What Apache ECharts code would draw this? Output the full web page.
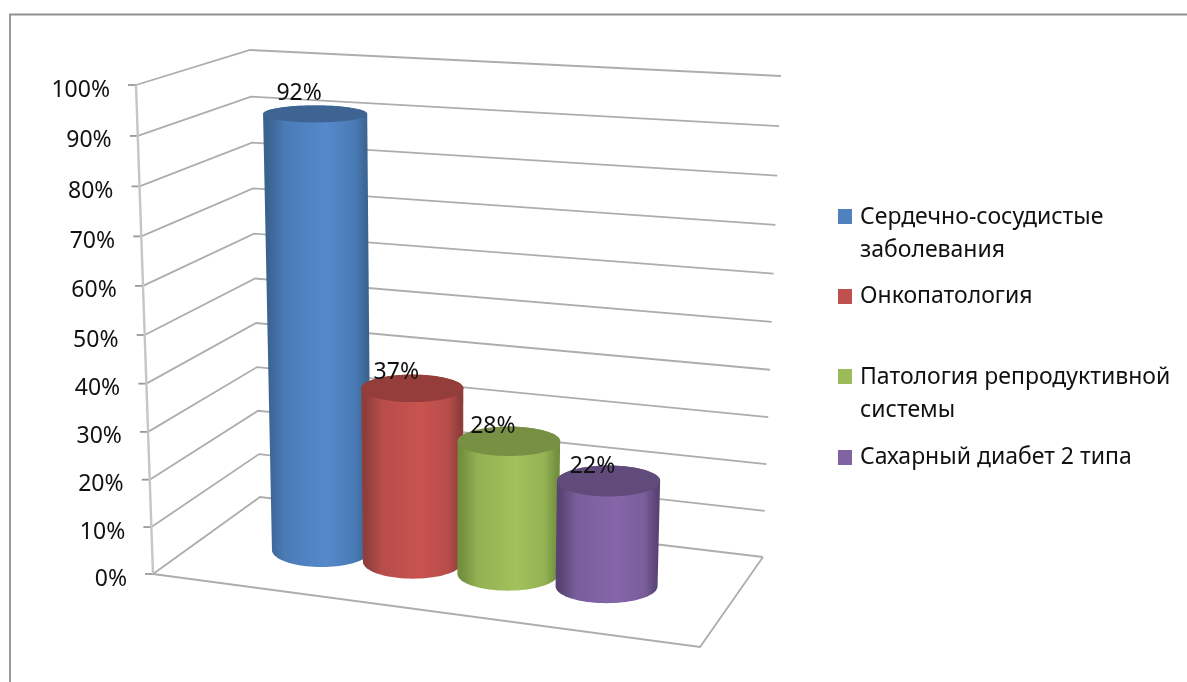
<!DOCTYPE html>
<html><head><meta charset="utf-8">
<style>html,body{margin:0;padding:0;background:#fff}#c{width:1187px;height:682px;filter:blur(0.4px)}</style>
<script src="https://cdn.jsdelivr.net/npm/echarts@6/dist/echarts.min.js"></script>
</head><body><div id="c"></div>
<script>
const seriesNames = ['Сердечно-сосудистые\nзаболевания','Онкопатология','Патология репродуктивной\nсистемы','Сахарный диабет 2 типа'];
const seriesValues = [92,37,28,22];
const tickValues = [0,10,20,30,40,50,60,70,80,90,100];
const seriesColors = ['#4F81BD','#C0504D','#9BBB59','#8064A2'];
const bodyEdge = ['#3A628F','#8E3D3B','#73903F','#584372'];
const bodyMid = ['#4A7BB6','#B74D4A','#93B254','#7A5E9B'];
const bodyLight = ['#5589CB','#C9534F','#A1C25C','#8566A9'];
const topFill = ['#3E6494','#953D3A','#789044','#604B7B'];

const FONT = '"Noto Sans", sans-serif';
// wall / floor frame of the 3D box (layout only)
const FL=[[153,574],[136,85]], BL=[[260,497],[250,50]], BR=[[763,557],[781,76]], FR=[[700,647],[715,121]];
const DEPTH=0.5, ROW_PERSP=0.1, LINE='#adadad', AXIS_LINE='#c6c6c6';
const X_MIN=-1.3127, X_MAX=4.2123;
const warp=t=>0.956*t/(1-0.044*t);
const lerp=(a,b,t)=>[a[0]+(b[0]-a[0])*t,a[1]+(b[1]-a[1])*t];
function project(u,d,t){
  const w=warp(t);
  const front=lerp(lerp(FL[0],FR[0],u),lerp(FL[1],FR[1],u),w);
  const back=lerp(lerp(BL[0],BR[0],u),lerp(BL[1],BR[1],u),w);
  return lerp(front,back,d);
}
const edge=(E,t)=>lerp(E[0],E[1],warp(t));
const tOf=(api,v)=>{const a=api.coord([0,0])[1],b=api.coord([0,100])[1];return (a-api.coord([0,v])[1])/(a-b);};
const uOf=(api,x)=>{const a=api.coord([X_MIN,0])[0],b=api.coord([X_MAX,0])[0];
  const s=(api.coord([x,0])[0]-a)/(b-a);return (1-ROW_PERSP)*s/(1-ROW_PERSP*s);};

function renderWall(params,api){
  const t=tOf(api,api.value(1));
  const f=edge(FL,t),b=edge(BL,t),r=edge(BR,t);
  return {type:'group',children:[
    {type:'polyline',shape:{points:[f,b,r]},style:{stroke:LINE,lineWidth:1.8,fill:null}},
    {type:'line',shape:{x1:f[0]-8,y1:f[1],x2:f[0],y2:f[1]},style:{stroke:'#999',lineWidth:1.8}}
  ]};
}
function renderFrame(params,api){
  return {type:'group',children:[
    {type:'line',shape:{x1:FL[1][0],y1:FL[1][1],x2:FL[0][0],y2:FL[0][1]},style:{stroke:AXIS_LINE,lineWidth:2.4}},
    {type:'polyline',shape:{points:[FL[0],FR[0],BR[0]]},style:{stroke:LINE,lineWidth:1.8,fill:null}}
  ]};
}
function ell(cx,cy,rx,ry,a0,a1,n){
  const p=[];for(let i=0;i<=n;i++){const a=a0+(a1-a0)*i/n;p.push([cx+rx*Math.cos(a),cy+ry*Math.sin(a)]);}return p;
}
function renderCylinder(idx){return function(params,api){
  const i=api.value(0),v=api.value(1),t=tOf(api,v),w=warp(t),u=uOf(api,i);
  const base=project(u,DEPTH,0),top=project(u,DEPTH,t);
  const rb=49.5+i*0.5,rt=rb+2.8*w;
  const ryTop=8.5+(top[1]-113)*0.019,ryB=17;
  const pts=[...ell(base[0],base[1],rb,ryB,0,Math.PI,40),...ell(top[0],top[1],rt,ryTop,Math.PI,2*Math.PI,40)];
  const grad=new echarts.graphic.LinearGradient(0,0,1,0,[
    {offset:0,color:bodyEdge[idx]},{offset:0.04,color:bodyEdge[idx]},{offset:0.2,color:bodyMid[idx]},
    {offset:0.58,color:bodyLight[idx]},{offset:0.85,color:bodyMid[idx]},{offset:0.97,color:bodyEdge[idx]},{offset:1,color:bodyEdge[idx]}]);
  return {type:'group',children:[
    {type:'polygon',shape:{points:pts},style:{fill:grad}},
    {type:'polygon',shape:{points:ell(top[0],top[1],rt,ryTop,0,2*Math.PI,80)},style:{fill:topFill[idx]}},
    {type:'text',z2:50,style:{text:v+'%',x:top[0]-16,y:top[1]-(13+8*w),align:'center',verticalAlign:'middle',
      font:'23px '+FONT,fill:'#111'}}
  ]};
};}

// native value-axis labels, nudged onto the slanted wall edge
const labelRich={};
tickValues.forEach(v=>{const t=v/100;
  labelRich['t'+v]={fontFamily:FONT,fontSize:23,color:'#111',padding:[2*(489*(t-warp(t))+5),17*t,0,0]};});

// legend: the swatch sits level with the first text line of a two-line entry
const swatchOne='path://M0 0H14V15H0Z', swatchTwo='path://M0 0H14V15H0Z M0 50L14 50Z';
const legendTops=[201,280,361,441];
const chart=echarts.init(document.getElementById('c'),null,{renderer:'canvas'});
chart.setOption({
  backgroundColor:'#fff',animation:false,
  graphic:[{type:'polyline',shape:{points:[[10,682],[10,14.5],[1187,14.5]]},style:{stroke:'#909090',lineWidth:1.8,fill:null},silent:true}],
  grid:{left:153,top:85,width:547,height:489,containLabel:false},
  xAxis:{type:'value',min:X_MIN,max:X_MAX,show:false},
  yAxis:{type:'value',min:0,max:100,interval:10,axisLine:{show:false},axisTick:{show:false},splitLine:{show:false},
    axisLabel:{margin:26,formatter:v=>`{t${v}|${v}%}`,rich:labelRich}},
  legend:seriesNames.map((n,i)=>{const two=n.includes('\n');return {data:[n],left:838,top:legendTops[i],padding:0,orient:'vertical',
    icon:two?swatchTwo:swatchOne,itemWidth:14,itemHeight:two?50:15,selectedMode:false,
    textStyle:{fontFamily:FONT,fontSize:23,color:'#111',lineHeight:33,padding:[0,0,0,3]}};}),
  series:[
    {type:'custom',name:'walls',silent:true,coordinateSystem:'cartesian2d',data:tickValues.map(v=>[0,v]),encode:{x:0,y:1},
      renderItem:renderWall,z:1},
    {type:'custom',name:'floor',silent:true,data:[[0,0]],renderItem:renderFrame,z:1},
    ...seriesNames.map((n,i)=>({type:'custom',name:n,silent:true,coordinateSystem:'cartesian2d',
      itemStyle:{color:seriesColors[i]},data:[[i,seriesValues[i]]],encode:{x:0,y:1},renderItem:renderCylinder(i),z:2+i}))
  ]
});
</script></body></html>
